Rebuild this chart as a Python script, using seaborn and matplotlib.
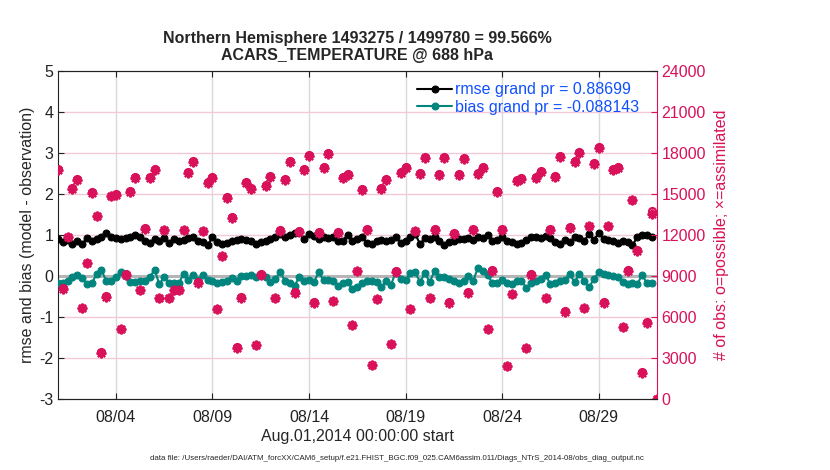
import numpy as np
import pandas as pd
import matplotlib
matplotlib.use('Agg')
import matplotlib.pyplot as plt
import matplotlib.dates as mdates
import seaborn as sns

# 6-hourly bins, Aug 1 2014 00Z -> Sep 1 2014 00Z
times = pd.date_range('2014-08-01 00:00', periods=125, freq='6h')

rmse = [0.90, 0.82, 0.88, 0.78, 0.85, 0.78, 0.93, 0.86, 0.90, 0.96,
        1.05, 0.94, 0.93, 0.90, 0.93, 0.94, 1.00, 0.94, 0.86, 0.80,
        0.90, 0.86, 0.93, 0.80, 0.90, 0.86, 0.88, 0.93, 0.96, 0.86,
        0.82, 0.76, 0.94, 0.82, 0.78, 0.80, 0.85, 0.88, 0.90, 0.88,
        0.86, 0.78, 0.82, 0.86, 0.90, 0.94, 1.02, 0.94, 1.01, 1.04,
        1.07, 0.90, 1.02, 0.98, 0.90, 0.94, 0.93, 0.94, 0.86, 0.86,
        1.01, 0.86, 0.90, 0.94, 0.80, 0.78, 0.86, 0.88, 0.86, 0.88,
        0.94, 0.80, 0.86, 0.94, 1.02, 0.78, 0.93, 0.90, 0.96, 0.86,
        0.76, 0.82, 0.85, 0.90, 0.90, 0.93, 0.88, 0.94, 0.93, 1.01,
        0.86, 0.88, 0.94, 0.86, 0.82, 0.78, 0.80, 0.88, 0.96, 0.94,
        0.93, 0.98, 0.93, 0.82, 0.78, 0.88, 0.82, 0.94, 0.93, 0.86,
        1.02, 0.88, 1.04, 0.90, 0.88, 0.85, 0.80, 0.86, 0.82, 0.76,
        0.94, 1.01, 1.01, 0.94, np.nan]

bias = [-0.18, -0.18, -0.11, -0.03, 0.03, -0.05, -0.20, -0.18, 0.05, 0.15,
        -0.13, -0.13, -0.02, 0.09, 0.01, -0.15, -0.15, -0.11, -0.11, -0.03,
        0.15, -0.20, -0.02, -0.18, -0.18, -0.18, 0.05, -0.10, 0.03, -0.10,
        0.03, -0.10, -0.11, -0.18, -0.15, -0.11, -0.05, -0.11, 0.01, 0.01,
        0.03, -0.03, 0.05, -0.03, -0.15, -0.07, 0.09, -0.11, -0.18, -0.24,
        -0.02, -0.11, -0.10, -0.15, 0.09, -0.10, -0.10, -0.11, -0.24, -0.18,
        -0.15, -0.32, -0.28, -0.18, -0.13, -0.11, -0.15, -0.26, -0.13, -0.21,
        0.11, -0.07, -0.10, 0.07, 0.09, -0.15, 0.07, -0.15, 0.13, -0.02,
        -0.03, -0.07, -0.11, -0.18, -0.13, 0.01, -0.11, 0.20, 0.13, 0.03,
        -0.18, -0.18, -0.10, -0.18, -0.20, -0.11, -0.11, -0.29, -0.18, -0.11,
        -0.07, 0.03, -0.20, -0.18, -0.11, -0.10, 0.05, -0.15, 0.05, -0.11,
        -0.28, -0.07, 0.09, 0.05, 0.03, 0.01, -0.03, -0.15, -0.20, -0.18,
        -0.20, 0.03, -0.18, -0.18, np.nan]

obs_possible = [16830, 8100, 11880, 15440, 16070, 6660, 9980, 15120, 13410, 3415,
                7510, 14880, 15000, 5120, 9150, 15240, 16270, 7980, 12510, 16220,
                16830, 7390, 12390, 7390, 8000, 8000, 12390, 16590, 17440, 8540,
                12320, 15850, 16270, 6590, 10490, 14800, 13340, 3780, 7440, 15850,
                15440, 3950, 9150, 15680, 16340, 7390, 12370, 16100, 17440, 7800,
                12270, 16830, 17880, 7070, 12200, 17000, 17980, 7200, 12200, 16270,
                16460, 5440, 9390, 15370, 12440, 2490, 7320, 15440, 16100, 4020,
                9340, 16590, 17000, 6590, 12320, 16510, 17680, 7390, 12440, 16460,
                17730, 7070, 12120, 16460, 17630, 7800, 12440, 16510, 16950, 5120,
                9440, 15200, 12440, 2440, 7680, 16020, 16170, 3730, 9150, 16220,
                16710, 7390, 12440, 16320, 17800, 6410, 12560, 17440, 18050, 6660,
                12680, 17240, 18410, 7070, 12680, 16830, 17000, 5290, 9440, 14590,
                10900, 1950, 5610, 13780, 0]

obs_used = [16780, 8070, 11830, 15380, 16010, 6630, 9940, 15060, 13360, 3400,
            7480, 14820, 14940, 5100, 9110, 15180, 16200, 7950, 12460, 16150,
            16760, 7360, 12340, 7360, 7970, 7970, 12340, 16520, 17370, 8500,
            12270, 15780, 16200, 6560, 10450, 14740, 13280, 3760, 7410, 15780,
            15380, 3930, 9110, 15610, 16270, 7360, 12320, 16030, 17370, 7770,
            12220, 16760, 17800, 7040, 12150, 16930, 17900, 7170, 12150, 16200,
            16390, 5420, 9350, 15300, 12390, 2480, 7290, 15380, 16030, 4000,
            9300, 16520, 16930, 6560, 12270, 16440, 17600, 7360, 12390, 16390,
            17650, 7040, 12070, 16390, 17550, 7770, 12390, 16440, 16880, 5100,
            9400, 15130, 12390, 2430, 7650, 15950, 16100, 3710, 9110, 16150,
            16640, 7360, 12390, 16250, 17720, 6380, 12510, 17370, 17970, 6630,
            12630, 17170, 18330, 7040, 12630, 16760, 16930, 5270, 9400, 14530,
            10850, 1940, 5580, 13540, 0]

tick_dates = ['2014-08-04', '2014-08-09', '2014-08-14', '2014-08-19', '2014-08-24', '2014-08-29']
left_ticks = [-3, -2, -1, 0, 1, 2, 3, 4, 5]
right_ticks = [0, 3000, 6000, 9000, 12000, 15000, 18000, 21000, 24000]

title_text = 'Northern Hemisphere 1493275 / 1499780 = 99.566%\nACARS_TEMPERATURE @ 688 hPa'
rmse_label = 'rmse grand pr = 0.88699'
bias_label = 'bias grand pr = -0.088143'
data_file = ('data file: /Users/raeder/DAI/ATM_forcXX/CAM6_setup/f.e21.FHIST_BGC.f09_025.'
             'CAM6assim.011/Diags_NTrS_2014-08/obs_diag_output.nc')

df = pd.DataFrame({'time': times, 'rmse': rmse, 'bias': bias,
                   'possible': obs_possible, 'used': obs_used})

sns.set_style('ticks')
plt.rcParams['font.family'] = ['Liberation Sans', 'DejaVu Sans']
plt.rcParams['font.size'] = 11.5
plt.rcParams['axes.unicode_minus'] = False

red = '#D8115A'
teal = '#00847E'
blue = '#1050FF'

fig = plt.figure(figsize=(8.3, 4.7), dpi=100)
ax = fig.add_axes([0.0699, 0.151, 0.7212, 0.698])
ax2 = ax.twinx()

# grid lines, zero line
for t in tick_dates:
    ax.axvline(pd.Timestamp(t), color='#d9d9d9', linewidth=1, zorder=0)
for v in left_ticks[1:-1]:
    ax.axhline(v, color='#f3c9d8', linewidth=1, zorder=0)
ax.axhline(0, color='#b5b5b5', linewidth=2.2, zorder=1)

sns.lineplot(data=df, x='time', y='rmse', ax=ax, color='black', marker='o',
             markersize=5, markeredgecolor='black', linewidth=1.5, label=rmse_label, zorder=3)
sns.lineplot(data=df, x='time', y='bias', ax=ax, color=teal, marker='o',
             markersize=5, markeredgecolor=teal, linewidth=1.5, label=bias_label, zorder=3)

sns.lineplot(data=df, x='time', y='possible', ax=ax2, linestyle='', marker='o',
             markersize=5, markerfacecolor='none', markeredgecolor=red, markeredgewidth=1.6,
             color=red, legend=False)
sns.lineplot(data=df, x='time', y='used', ax=ax2, linestyle='', marker=(8, 2, 0),
             markersize=7, markeredgecolor=red, markeredgewidth=1.6, color=red, legend=False)

ax.set_xlim(times[0], times[-1])
ax.set_ylim(-3, 5)
ax2.set_ylim(0, 24000)
ax.set_yticks(left_ticks)
ax2.set_yticks(right_ticks)
ax.set_xticks([pd.Timestamp(t) for t in tick_dates])
ax.xaxis.set_major_formatter(mdates.DateFormatter('%m/%d'))

ax.tick_params(axis='both', direction='in', length=4, top=True, right=False, labelsize=11.5,
               colors='#222222')
ax.tick_params(axis='x', pad=8)
ax2.tick_params(axis='y', direction='in', length=4, colors=red, labelsize=11.5)
for s in ['top', 'bottom', 'left']:
    ax.spines[s].set_color('#222222')
ax.spines['right'].set_visible(False)
ax2.spines['right'].set_color(red)
ax2.spines['left'].set_visible(False)
ax2.spines['top'].set_color('#222222')
ax2.spines['bottom'].set_color('#222222')

ax.set_xlabel('Aug.01,2014 00:00:00 start', fontsize=11.5, labelpad=3)
ax.set_ylabel('rmse and bias (model - observation)', fontsize=11.5, labelpad=3)
ax2.set_ylabel('# of obs: o=possible; \u00d7=assimilated', fontsize=11.5, color=red, labelpad=6)
ax.set_title(title_text, fontsize=11.5, fontweight='bold', pad=8, linespacing=1.15)

leg = ax.legend(loc='upper right', bbox_to_anchor=(0.99, 1.0), frameon=False, fontsize=11.5,
                labelcolor=blue, handlelength=2.2, handletextpad=0.2, borderaxespad=0.3,
                labelspacing=0.15)
leg.set_zorder(10)

fig.text(0.478, 0.025, data_file, ha='center', va='center', fontsize=5.7)

fig.savefig('out.png', dpi=100)
